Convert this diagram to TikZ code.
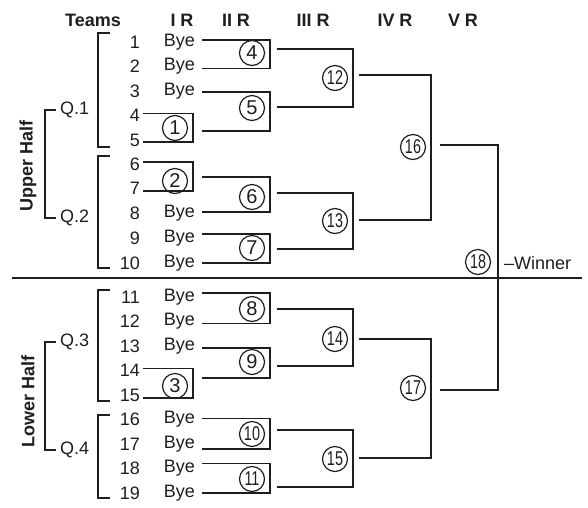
\documentclass[tikz,border=0pt]{standalone}
\usepackage{fontspec}
\setmainfont{Liberation Sans}
\usepackage{graphicx}
\definecolor{myink}{HTML}{1E1E1E}
\usepackage{tikz}
\usetikzlibrary{
  positioning, calc
}
\newcommand{\tdig}[1]{\scalebox{0.72}[1]{#1}}
\tikzset{
	teamnode/.style={
			anchor=east,
			inner xsep=3pt,
			inner ysep=0pt,
			text=myink,
			font=\fontsize{18}{20}\selectfont
		},
	byenode/.style={
			teamnode,
			inner xsep=7pt
		},
	headnode/.style={
			inner sep=0pt,
			text=myink,
			font=\fontsize{18}{20}\selectfont\bfseries
		},
	matchnode/.style={
			circle,
			draw=myink,
			line width=1.2pt,
			minimum size=25pt,
			inner sep=0pt,
			text=myink,
			font=\fontsize{20}{22}\selectfont
		},
	qnode/.style={
			anchor=west,
			inner xsep=4pt,
			inner ysep=0pt,
			text=myink,
			font=\fontsize{18}{20}\selectfont
		},
	wire/.style={
			draw=myink,
			line width=1.3pt
		}
}

\begin{document}
\begin{tikzpicture}[x=1pt,y=-1pt]
\useasboundingbox (0,0) rectangle (588,507);

% headings
\node[headnode] (hTeams) at (93,20) {Teams};
\node[headnode] (hOne) at (182,20) {I R};
\node[headnode] (hTwo) at (236,20) {II R};
\node[headnode] (hThree) at (313,20) {III R};
\node[headnode] (hFour) at (395,20) {IV R};
\node[headnode] (hFive) at (463,20) {V R};

% teams
\node[teamnode] (t1) at (143,42) {1};
\node[teamnode] (t2) at (143,66.5) {2};
\node[teamnode] (t3) at (143,91) {3};
\node[teamnode] (t4) at (143,115.5) {4};
\node[teamnode] (t5) at (143,140) {5};
\node[teamnode] (t6) at (143,164) {6};
\node[teamnode] (t7) at (143,188) {7};
\node[teamnode] (t8) at (143,213) {8};
\node[teamnode] (t9) at (143,238) {9};
\node[teamnode] (t10) at (143,263) {10};
\node[teamnode] (t11) at (143,297) {11};
\node[teamnode] (t12) at (143,321.5) {12};
\node[teamnode] (t13) at (143,346) {13};
\node[teamnode] (t14) at (143,370.5) {14};
\node[teamnode] (t15) at (143,395) {15};
\node[teamnode] (t16) at (143,419.5) {16};
\node[teamnode] (t17) at (143,444) {17};
\node[teamnode] (t18) at (143,468.5) {18};
\node[teamnode] (t19) at (143,493) {19};

% byes
\node[byenode] (b1) at (202,42) {Bye};
\node[byenode] (b2) at (202,66.5) {Bye};
\node[byenode] (b3) at (202,91) {Bye};
\node[byenode] (b8) at (202,213) {Bye};
\node[byenode] (b9) at (202,238) {Bye};
\node[byenode] (b10) at (202,263) {Bye};
\node[byenode] (b11) at (202,297) {Bye};
\node[byenode] (b12) at (202,321.5) {Bye};
\node[byenode] (b13) at (202,346) {Bye};
\node[byenode] (b16) at (202,419.5) {Bye};
\node[byenode] (b17) at (202,444) {Bye};
\node[byenode] (b18) at (202,468.5) {Bye};
\node[byenode] (b19) at (202,493) {Bye};

% matches
\node[matchnode] (m1) at (175,128) {1};
\node[matchnode] (m2) at (175,181) {2};
\node[matchnode] (m3) at (175,386) {3};
\node[matchnode] (m4) at (252,53) {4};
\node[matchnode] (m5) at (252,108) {5};
\node[matchnode] (m6) at (252,197) {6};
\node[matchnode] (m7) at (252,248) {7};
\node[matchnode] (m8) at (252,309) {8};
\node[matchnode] (m9) at (252,362) {9};
\node[matchnode] (m10) at (252,434) {\tdig{10}};
\node[matchnode] (m11) at (252,479) {\tdig{11}};
\node[matchnode] (m12) at (335,78) {\tdig{12}};
\node[matchnode] (m13) at (335,221) {\tdig{13}};
\node[matchnode] (m14) at (335,339) {\tdig{14}};
\node[matchnode] (m15) at (335,459) {\tdig{15}};
\node[matchnode] (m16) at (413,147) {\tdig{16}};
\node[matchnode] (m17) at (413,388) {\tdig{17}};
\node[matchnode] (m18) at (478,262) {\tdig{18}};
\node[qnode] (winner) at (500,263) {--Winner};

% bracket corners and outlets
\coordinate (j1) at (193,128);
\coordinate (j2) at (193,181);
\coordinate (j3) at (193,386);
\coordinate (j4) at (270,53);
\coordinate (j5) at (270,108);
\coordinate (j6) at (270,197);
\coordinate (j7) at (270,248);
\coordinate (j8) at (270,309);
\coordinate (j9) at (270,362);
\coordinate (j10) at (270,434);
\coordinate (j11) at (270,479);
\coordinate (j12) at (353,78);
\coordinate (j13) at (353,221);
\coordinate (j14) at (353,339);
\coordinate (j15) at (353,459);
\coordinate (j16) at (431,147);
\coordinate (j17) at (431,388);
\coordinate (j18) at (498,262);
\coordinate (o1) at (202,131);
\coordinate (o2) at (202,177);
\coordinate (o3) at (202,378);
\coordinate (o4) at (277,49);
\coordinate (o5) at (277,107);
\coordinate (o6) at (277,193);
\coordinate (o7) at (277,249);
\coordinate (o8) at (277,309);
\coordinate (o9) at (277,366);
\coordinate (o10) at (277,430);
\coordinate (o11) at (277,487);
\coordinate (o12) at (359,75);
\coordinate (o13) at (359,220);
\coordinate (o14) at (359,339);
\coordinate (o15) at (359,458);
\coordinate (o16) at (440,145);
\coordinate (o17) at (440,390);

% round I
\draw[wire] ([yshift=2pt]t4.east) -| (j1) |- ([yshift=-2pt]t5.east);
\draw[wire] ([yshift=2pt]t6.east) -| (j2) |- ([yshift=-3pt]t7.east);
\draw[wire] ([yshift=2pt]t14.east) -| (j3) |- ([yshift=-3pt]t15.east);

% round II
\draw[wire] ([yshift=2pt]b1.east) -| (j4) |- ([yshift=-2pt]b2.east);
\draw[wire] ([yshift=-1pt]b3.east) -| (j5) |- (o1);
\draw[wire] (o2) -| (j6) |- ([yshift=1pt]b8.east);
\draw[wire] ([yshift=4pt]b9.east) -| (j7) |- ([yshift=0pt]b10.east);
\draw[wire] ([yshift=4pt]b11.east) -| (j8) |- ([yshift=-2pt]b12.east);
\draw[wire] ([yshift=-2pt]b13.east) -| (j9) |- (o3);
\draw[wire] ([yshift=1pt]b16.east) -| (j10) |- ([yshift=-5pt]b17.east);
\draw[wire] ([yshift=5pt]b18.east) -| (j11) |- ([yshift=0pt]b19.east);

% round III
\draw[wire] (o4) -| (j12) |- (o5);
\draw[wire] (o6) -| (j13) |- (o7);
\draw[wire] (o8) -| (j14) |- (o9);
\draw[wire] (o10) -| (j15) |- (o11);

% round IV and final
\draw[wire] (o12) -| (j16) |- (o13);
\draw[wire] (o14) -| (j17) |- (o15);
\draw[wire] (o16) -| (j18) |- (o17);

% quarters
\draw[wire] (110,33) -- (98,33) -- (98,147) -- (110,147);
\draw[wire] (110,156) -- (98,156) -- (98,268) -- (110,268);
\draw[wire] (110,290) -- (98,290) -- (98,401) -- (110,401);
\draw[wire] (110,415) -- (98,415) -- (98,498) -- (110,498);
\node[qnode] (q1) at (56,110) {Q.1};
\node[qnode] (q2) at (56,218) {Q.2};
\node[qnode] (q3) at (56,342) {Q.3};
\node[qnode] (q4) at (56,450) {Q.4};
\draw[wire] (q1.west) -- ++(-11,0) |- (q2.west);
\draw[wire] (q3.west) -- ++(-11,0) |- (q4.west);

% halves
\node[headnode, rotate=90] (upper) at (28,166) {Upper Half};
\node[headnode, rotate=90] (lower) at (28,401) {Lower Half};
\draw[wire] (12,278) -- (582,278);

\end{tikzpicture}
\end{document}
